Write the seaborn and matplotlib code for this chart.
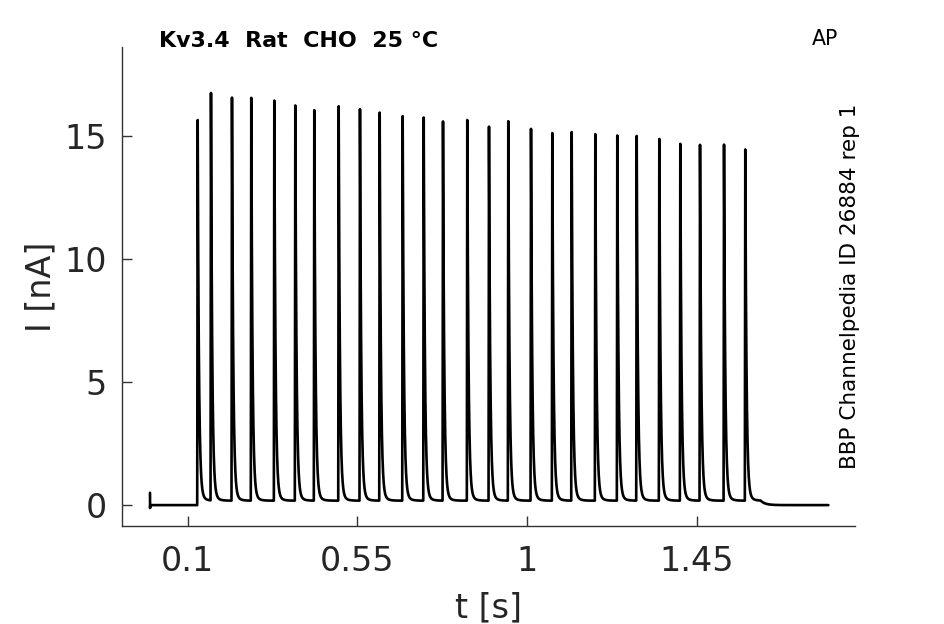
import numpy as np
import pandas as pd
import matplotlib
matplotlib.use("Agg")
import matplotlib.pyplot as plt
import seaborn as sns

# ---- data ----
spike_times = [0.1265, 0.1618, 0.2175, 0.2687, 0.3298, 0.3855, 0.4359, 0.5006,
               0.5571, 0.6094, 0.6704, 0.7262, 0.7774, 0.8418, 0.8994, 0.9506,
               1.0109, 1.0674, 1.1188, 1.1815, 1.2398, 1.2913, 1.3513, 1.4070,
               1.4593, 1.5230, 1.5794]
spike_peaks = [15.48, 16.57, 16.39, 16.38, 16.27, 16.07, 15.88, 16.04,
               15.92, 15.78, 15.64, 15.58, 15.42, 15.48, 15.21, 15.43,
               15.12, 14.95, 14.99, 14.91, 14.85, 14.83, 14.71, 14.51,
               14.47, 14.48, 14.28]
rest_level = 0.0
train_level = 0.18
train_end = 1.62
artifact_top = 0.5
artifact_bottom = -0.12
t_end = 1.80
xticks = [0.1, 0.55, 1.0, 1.45]
xtick_labels = ["0.1", "0.55", "1", "1.45"]
yticks = [0, 5, 10, 15]

# ---- build the recorded trace from the read values ----
t = np.union1d(np.arange(0.0, t_end, 0.0002), np.array(spike_times))
I = np.full_like(t, rest_level)
in_train = (t >= spike_times[0]) & (t < train_end)
I[in_train] = train_level
after = t >= train_end
I[after] = rest_level + (train_level - rest_level) * np.exp(-(t[after] - train_end) / 0.012)
for ts, pk in zip(spike_times, spike_peaks):
    dt = t - ts
    rise = (dt >= -0.0012) & (dt < 0)
    I[rise] += pk * (dt[rise] + 0.0012) / 0.0012
    dec = dt >= 0
    I[dec] += (pk - 0.6) * np.exp(-dt[dec] / 0.0032) + 0.6 * np.exp(-dt[dec] / 0.009)
# start artifact
I[0] = artifact_top
I[1] = artifact_bottom
I[2] = artifact_bottom * 0.5

df = pd.DataFrame({"t": t, "I": I})

# ---- figure ----
sns.set_theme(style="ticks")
plt.rcParams["font.family"] = ["DejaVu Sans"]
fig = plt.figure(figsize=(9.45, 6.24), dpi=100)
ax = fig.add_axes([122 / 945, 1 - 526 / 624, (855 - 122) / 945, (526 - 47) / 624])

sns.lineplot(data=df, x="t", y="I", ax=ax, color="black", linewidth=1.9,
             estimator=None, sort=False)

ax.set_xlim(-0.0743, 1.8705)
ax.set_ylim(-0.85, 18.63)
ax.set_xticks(xticks)
ax.set_xticklabels(xtick_labels)
ax.set_yticks(yticks)
ax.tick_params(axis="both", direction="in", length=7, width=1.0,
               color="#333333", labelcolor="#262626", labelsize=24)
ax.tick_params(axis="x", pad=14)
ax.tick_params(axis="y", pad=11)
for s in ["top", "right"]:
    ax.spines[s].set_visible(False)
for s in ["left", "bottom"]:
    ax.spines[s].set_color("#333333")
    ax.spines[s].set_linewidth(1.0)

ax.set_xlabel("t [s]", fontsize=24, color="#262626", labelpad=9)
ax.set_ylabel("I [nA]", fontsize=24, color="#262626", labelpad=5)

fig.text(159 / 945, 1 - 47.3 / 624, "Kv3.4  Rat  CHO  25 °C", fontsize=15.9,
         fontweight="bold", color="black", ha="left", va="baseline")
fig.text(811.7 / 945, 1 - 45 / 624, "AP", fontsize=14.8, color="black",
         ha="left", va="baseline")
fig.text(850 / 945, 1 - 286 / 624, "BBP Channelpedia ID 26884 rep 1",
         fontsize=15.5, color="black", rotation=90, ha="center", va="center")

fig.savefig("out.png", dpi=100)
